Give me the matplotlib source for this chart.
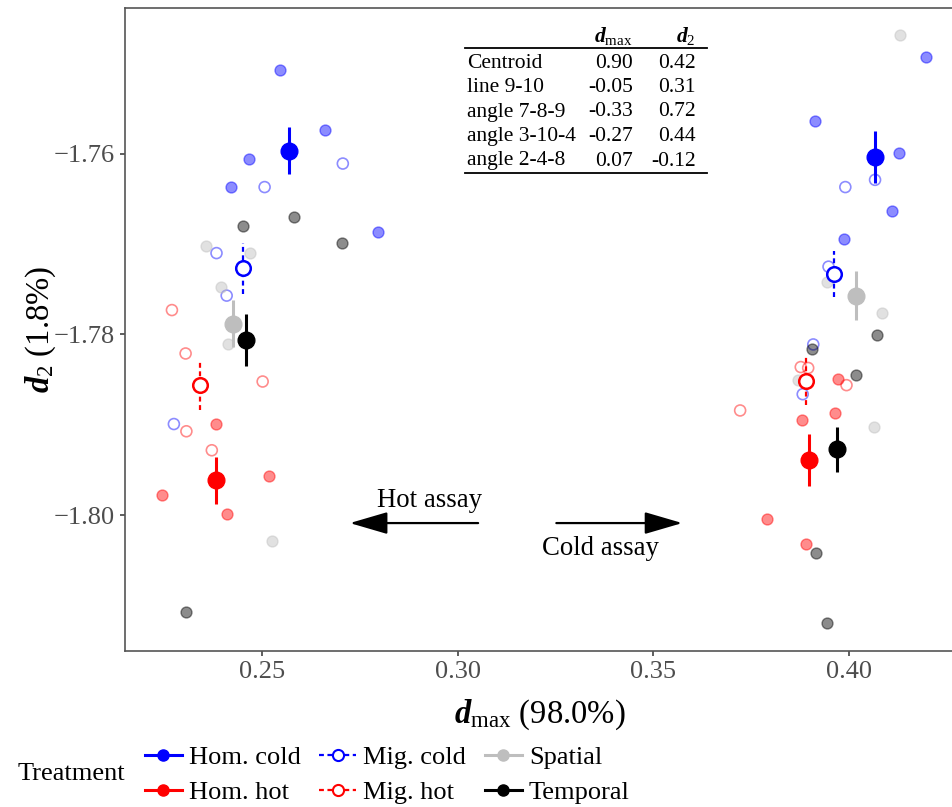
import matplotlib.pyplot as plt
from matplotlib.lines import Line2D

plt.rcParams['font.family'] = 'Liberation Serif'
plt.rcParams['mathtext.fontset'] = 'custom'
plt.rcParams['mathtext.rm'] = 'Liberation Serif'
plt.rcParams['mathtext.it'] = 'Liberation Serif:italic'
plt.rcParams['mathtext.bf'] = 'Liberation Serif:bold:italic'

# replicate lines, hot assay (left cluster) followed by cold assay (right cluster)
hom_cold_x = [0.2546, 0.2465, 0.2420, 0.2661, 0.2796, 0.4196, 0.3913, 0.4129, 0.4110, 0.3988]
hom_cold_y = [-1.7507, -1.7606, -1.7637, -1.7574, -1.7687, -1.7493, -1.7564, -1.7599, -1.7663, -1.7694]
mig_cold_x = [0.2506, 0.2383, 0.2409, 0.2274, 0.2706, 0.4067, 0.3991, 0.3948, 0.3909, 0.3882]
mig_cold_y = [-1.7637, -1.7710, -1.7757, -1.7899, -1.7611, -1.7629, -1.7637, -1.7725, -1.7811, -1.7866]
spatial_x = [0.2356, 0.2469, 0.2394, 0.2413, 0.2525, 0.4131, 0.3944, 0.4085, 0.3870, 0.4064]
spatial_y = [-1.7702, -1.7710, -1.7747, -1.7810, -1.8028, -1.7469, -1.7742, -1.7776, -1.7850, -1.7902]
temporal_x = [0.2580, 0.2451, 0.2304, 0.2704, 0.4073, 0.3906, 0.4018, 0.3915, 0.3943]
temporal_y = [-1.7670, -1.7680, -1.8107, -1.7699, -1.7801, -1.7816, -1.7845, -1.8042, -1.8119]
hom_hot_x = [0.2381, 0.2516, 0.2244, 0.2409, 0.3971, 0.3964, 0.3881, 0.3790, 0.3891]
hom_hot_y = [-1.7899, -1.7957, -1.7977, -1.7999, -1.7849, -1.7887, -1.7894, -1.8004, -1.8032]
mig_hot_x = [0.2269, 0.2304, 0.2501, 0.2306, 0.2371, 0.3877, 0.3896, 0.3994, 0.3722]
mig_hot_y = [-1.7773, -1.7821, -1.7852, -1.7907, -1.7928, -1.7836, -1.7837, -1.7856, -1.7884]

# treatment means with error (hot assay, cold assay)
treatments = ['Hom. cold', 'Hom. hot', 'Mig. cold', 'Mig. hot', 'Spatial', 'Temporal']
mean_x = {'Hom. cold': [0.2568, 0.4067], 'Hom. hot': [0.2381, 0.3898],
          'Mig. cold': [0.2450, 0.3962], 'Mig. hot': [0.2341, 0.3890],
          'Spatial': [0.2426, 0.4018], 'Temporal': [0.2458, 0.3969]}
mean_y = {'Hom. cold': [-1.7597, -1.7604], 'Hom. hot': [-1.7961, -1.7939],
          'Mig. cold': [-1.7727, -1.7733], 'Mig. hot': [-1.7856, -1.7851],
          'Spatial': [-1.7788, -1.7757], 'Temporal': [-1.7806, -1.7927]}
mean_err = {'Hom. cold': [0.0026, 0.0029], 'Hom. hot': [0.0026, 0.0029],
            'Mig. cold': [0.0028, 0.0025], 'Mig. hot': [0.0028, 0.0027],
            'Spatial': [0.0026, 0.0027], 'Temporal': [0.0029, 0.0025]}

# loadings table
table_rows = ['Centroid', 'line 9-10', 'angle 7-8-9', 'angle 3-10-4', 'angle 2-4-8']
table_dmax = ['0.90', '-0.05', '-0.33', '-0.27', '0.07']
table_d2 = ['0.42', '0.31', '0.72', '0.44', '-0.12']

colors = {'Hom. cold': '#0000FF', 'Hom. hot': '#FF0000', 'Mig. cold': '#0000FF',
          'Mig. hot': '#FF0000', 'Spatial': '#BEBEBE', 'Temporal': '#000000'}
hollow = {'Mig. cold', 'Mig. hot'}

W, H = 952, 807
fig = plt.figure(figsize=(W / 100, H / 100), dpi=100)
ax = fig.add_axes([125 / W, 1 - 650.5 / H, (965 - 125) / W, (650.5 - 8) / H])
ax.set_xlim(0.2149, 0.4297)
ax.set_ylim(-1.81494, -1.7439)

reps = [('Hom. cold', hom_cold_x, hom_cold_y), ('Mig. cold', mig_cold_x, mig_cold_y),
        ('Spatial', spatial_x, spatial_y), ('Temporal', temporal_x, temporal_y),
        ('Hom. hot', hom_hot_x, hom_hot_y), ('Mig. hot', mig_hot_x, mig_hot_y)]
for name, xs, ys in reps:
    c = colors[name]
    if name in hollow:
        ax.scatter(xs, ys, s=62, facecolors='none', edgecolors=c, linewidths=1.2,
                   alpha=0.45, zorder=2)
    else:
        ax.scatter(xs, ys, s=62, facecolors=c, edgecolors=c, linewidths=1.0,
                   alpha=0.45, zorder=2)

for name in treatments:
    c = colors[name]
    if name in hollow:
        eb = ax.errorbar(mean_x[name], mean_y[name], yerr=mean_err[name], fmt='o',
                         color=c, ms=10.5, mfc='white', mec=c, mew=1.8,
                         elinewidth=1.6, capsize=0, zorder=4)
        eb[2][0].set_linestyle((0, (2.2, 1.6)))
    else:
        ax.errorbar(mean_x[name], mean_y[name], yerr=mean_err[name], fmt='o',
                    color=c, ms=12, mfc=c, mec=c, elinewidth=2.2, capsize=0, zorder=3)

# assay direction arrows
arrow = dict(arrowstyle='-|>,head_length=1.3,head_width=0.38', color='black',
             lw=1.6, mutation_scale=18, shrinkA=0, shrinkB=0)
ax.annotate('', xy=(0.2724, -1.80085), xytext=(0.3052, -1.80085), arrowprops=arrow)
ax.annotate('', xy=(0.3574, -1.80085), xytext=(0.3252, -1.80085), arrowprops=arrow)
ax.text(0.2927, -1.7983, 'Hot assay', fontsize=19.3, ha='center', va='center')
ax.text(0.3364, -1.8037, 'Cold assay', fontsize=19.3, ha='center', va='center')

ax.set_xticks([0.25, 0.30, 0.35, 0.40])
ax.set_xticklabels(['0.25', '0.30', '0.35', '0.40'])
ax.set_yticks([-1.80, -1.78, -1.76])
ax.set_yticklabels(['\u22121.80', '\u22121.78', '\u22121.76'])
ax.tick_params(labelsize=19, labelcolor='#4D4D4D', color='#333333', length=3.6,
               width=1.1, pad=4)
for side in ['left', 'bottom', 'top']:
    ax.spines[side].set_color('#555555')
    ax.spines[side].set_linewidth(1.2)
ax.spines['right'].set_visible(False)

ax.set_xlabel(r'$\mathbf{d}_{\mathrm{max}}$ (98.0%)', fontsize=23.5)
ax.set_ylabel(r'$\mathbf{d}_{2}$ (1.8%)', fontsize=23.5)
ax.xaxis.set_label_coords((540 - 125) / 840, -0.073)
ax.yaxis.set_label_coords(-0.08, 0.5)


def fx(px):
    return px / W


def fy(py):
    return 1 - py / H


# loadings table in the top of the panel
fig.add_artist(Line2D([fx(465), fx(707)], [fy(48), fy(48)], color='black', lw=1.3))
fig.add_artist(Line2D([fx(465), fx(707)], [fy(173), fy(173)], color='black', lw=1.3))
fig.text(fx(633), fy(36), r'$\mathbf{d}_{\mathrm{max}}$', fontsize=15.5, ha='right', va='center')
fig.text(fx(696), fy(36), r'$\mathbf{d}_{2}$', fontsize=15.5, ha='right', va='center')
for i, row in enumerate(table_rows):
    yy = fy(63 + 24.5 * i)
    fig.text(fx(467), yy, row, fontsize=15.5, ha='left', va='center')
    fig.text(fx(633), yy, table_dmax[i], fontsize=15.5, ha='right', va='center')
    fig.text(fx(696), yy, table_d2[i], fontsize=15.5, ha='right', va='center')

# legend below the panel
handles = []
for name in treatments:
    c = colors[name]
    if name in hollow:
        handles.append(Line2D([], [], color=c, lw=1.6, ls=(0, (2.2, 1.6)), marker='o',
                              ms=8, mfc='white', mec=c, mew=1.5))
    else:
        handles.append(Line2D([], [], color=c, lw=2.2, marker='o', ms=8, mfc=c, mec=c))
fig.legend(handles, treatments, ncol=3, loc='center left',
           bbox_to_anchor=(fx(145), fy(775)), frameon=False, fontsize=19,
           handlelength=1.4, handletextpad=0.27, columnspacing=0.7,
           labelspacing=0.42, borderpad=0, borderaxespad=0)
fig.text(fx(18), fy(774), 'Treatment', fontsize=19, ha='left', va='center')

fig.savefig('out.png', dpi=100)
